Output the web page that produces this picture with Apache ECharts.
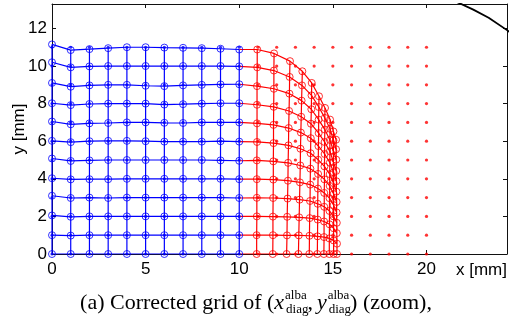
<!DOCTYPE html>
<html>
<head>
<meta charset="utf-8">
<script src="https://cdn.jsdelivr.net/npm/echarts@6/dist/echarts.min.js"></script>
<style>
html,body{margin:0;padding:0;background:#fff;}
#chart{width:516px;height:323px;}
</style>
</head>
<body>
<div id="chart"></div>
<script>
// blue part of the corrected grid: columns x = 0..10, one row per y = 0..11
const blueX = [0, 1, 2, 3, 4, 5, 6, 7, 8, 9, 10];
const blueY = [
  [0, 0, 0, 0, 0, 0, 0, 0, 0, 0, 0],
  [1.0, 0.98, 1.0, 1.0, 1.0, 1.0, 1.0, 1.0, 1.0, 1.0, 1.0],
  [2.05, 1.98, 2.0, 2.0, 2.0, 2.0, 2.0, 2.0, 2.0, 2.0, 2.0],
  [3.1, 2.98, 3.0, 2.98, 3.0, 3.0, 3.0, 3.0, 3.0, 3.0, 2.98],
  [4.03, 3.97, 3.98, 3.98, 4.0, 4.0, 4.0, 4.0, 4.0, 4.0, 3.98],
  [5.08, 4.95, 4.98, 5.0, 5.0, 5.0, 5.0, 5.0, 5.0, 4.98, 4.96],
  [6.02, 5.95, 6.0, 6.02, 6.02, 6.0, 5.98, 5.98, 5.98, 6.0, 5.98],
  [7.05, 6.9, 6.95, 6.97, 7.0, 7.0, 6.98, 6.97, 7.0, 7.0, 7.0],
  [8.02, 7.92, 7.98, 8.0, 8.0, 8.0, 7.95, 7.97, 8.0, 8.02, 8.02],
  [9.1, 8.9, 8.97, 9.0, 9.0, 8.95, 8.93, 8.97, 9.0, 9.02, 9.03],
  [10.2, 9.93, 9.98, 10.0, 10.0, 10.0, 10.0, 10.0, 10.0, 10.0, 9.98],
  [11.15, 10.85, 10.9, 10.95, 11.0, 11.0, 10.98, 10.97, 10.95, 10.92, 10.88]
];

// red part: grid columns 11..20 squeezed towards x = 15, one row per y = 0..11
const redX = [
  [10.93, 11.79, 12.53, 13.16, 13.74, 14.17, 14.52, 14.81, 15.04, 15.22],
  [10.93, 11.80, 12.55, 13.18, 13.75, 14.18, 14.53, 14.81, 15.04, 15.22],
  [10.94, 11.80, 12.56, 13.20, 13.76, 14.19, 14.53, 14.82, 15.04, 15.21],
  [10.94, 11.81, 12.58, 13.22, 13.78, 14.19, 14.54, 14.82, 15.04, 15.21],
  [10.94, 11.82, 12.60, 13.24, 13.79, 14.20, 14.54, 14.82, 15.04, 15.20],
  [10.94, 11.82, 12.61, 13.26, 13.80, 14.21, 14.55, 14.83, 15.04, 15.20],
  [10.95, 11.83, 12.63, 13.27, 13.81, 14.22, 14.55, 14.83, 15.04, 15.19],
  [10.95, 11.83, 12.64, 13.29, 13.82, 14.23, 14.56, 14.84, 15.04, 15.19],
  [10.95, 11.84, 12.66, 13.31, 13.83, 14.24, 14.56, 14.84, 15.03, 15.18],
  [10.95, 11.85, 12.68, 13.33, 13.85, 14.24, 14.57, 14.84, 15.03, 15.18],
  [10.96, 11.85, 12.69, 13.35, 13.86, 14.25, 14.57, 14.85, 15.03, 15.17],
  [10.96, 11.86, 12.71, 13.37, 13.87, 14.26, 14.58, 14.85, 15.03, 15.17]
];
const redY = [
  [0, 0, 0, 0, 0, 0, 0, 0, 0, 0],
  [1.00, 1.00, 0.99, 0.99, 0.97, 0.94, 0.90, 0.83, 0.72, 0.55],
  [2.00, 1.99, 1.98, 1.95, 1.91, 1.83, 1.73, 1.58, 1.37, 1.11],
  [2.99, 2.98, 2.95, 2.89, 2.82, 2.67, 2.51, 2.29, 2.00, 1.66],
  [3.98, 3.96, 3.90, 3.81, 3.69, 3.48, 3.25, 2.97, 2.60, 2.21],
  [4.98, 4.93, 4.85, 4.71, 4.54, 4.26, 3.97, 3.62, 3.19, 2.77],
  [5.96, 5.90, 5.78, 5.60, 5.36, 5.01, 4.66, 4.25, 3.77, 3.32],
  [6.95, 6.87, 6.70, 6.46, 6.16, 5.74, 5.32, 4.86, 4.34, 3.87],
  [7.94, 7.83, 7.61, 7.30, 6.93, 6.43, 5.96, 5.46, 4.90, 4.42],
  [8.93, 8.79, 8.53, 8.16, 7.70, 7.15, 6.62, 6.07, 5.49, 5.02],
  [9.93, 9.76, 9.42, 8.97, 8.44, 7.82, 7.24, 6.66, 6.05, 5.57],
  [10.88, 10.67, 10.26, 9.72, 9.10, 8.39, 7.77, 7.15, 6.52, 6.08]
];

// uncorrected grid positions (dots)
const dotX = [11, 12, 13, 14, 15, 16, 17, 18, 19, 20];
const dotY = [0, 1, 2, 3, 4, 5, 6, 7, 8, 9, 10, 11];

// black boundary in the top right corner
const edgeX = [21.2, 21.7, 22.5, 23.32, 24.3, 24.7];
const edgeY = [13.6, 13.37, 13.0, 12.57, 11.91, 11.62];

const xTicks = [0, 5, 10, 15, 20];
const yTicks = [0, 2, 4, 6, 8, 10, 12];

const BLUE = '#0000ff';
const RED = '#ff0000';
const SANS = '"Liberation Sans", Arial, sans-serif';
const SERIF = '"Liberation Serif", "Times New Roman", serif';
const labelFont = {fontSize: 17, color: '#000', fontFamily: SANS};

const chart = echarts.init(document.getElementById('chart'));

const series = [];
const lineSeries = (data, color) => ({
  type: 'line', data, showSymbol: false, symbol: 'none', silent: true,
  lineStyle: {color, width: 1.2}, z: 2
});

// red grid first, blue on top
redX.forEach((row, v) => {
  series.push(lineSeries([[blueX[10], blueY[v][10]]].concat(row.map((x, j) => [x, redY[v][j]])), RED));
});
dotX.forEach((_, j) => {
  series.push(lineSeries(redX.map((row, v) => [row[j], redY[v][j]]), RED));
});
blueY.forEach(row => {
  series.push(lineSeries(blueX.map((x, i) => [x, row[i]]), BLUE));
});
blueX.forEach((x, i) => {
  series.push(lineSeries(blueY.map(row => [x, row[i]]), BLUE));
});

const redCircles = [];
redX.forEach((row, v) => row.forEach((x, j) => redCircles.push([x, redY[v][j]])));
const blueCircles = [];
blueY.forEach(row => row.forEach((y, i) => blueCircles.push([blueX[i], y])));
const redDots = [];
dotY.forEach(y => dotX.forEach(x => redDots.push([x, y])));
const blueDots = [];
dotY.forEach(y => blueX.forEach(x => blueDots.push([x, y])));

const circle = (data, color, z) => ({
  type: 'scatter', data, symbol: 'circle', symbolSize: 7, silent: true, z,
  itemStyle: {color: 'rgba(0,0,0,0)', borderColor: color, borderWidth: 1}
});
const dots = (data, color, z) => ({
  type: 'scatter', data, symbol: 'circle', symbolSize: 3.2, silent: true, z,
  itemStyle: {color}
});
series.push(dots(redDots, RED, 3));
series.push(circle(redCircles, RED, 3));
series.push(dots(blueDots, BLUE, 4));
series.push(circle(blueCircles, BLUE, 4));

series.push({
  type: 'line', data: edgeX.map((x, i) => [x, edgeY[i]]), showSymbol: false, symbol: 'none',
  silent: true, clip: true, lineStyle: {color: '#000', width: 1.8}, z: 5
});

const tickFmt = list => v => (list.indexOf(v) >= 0 ? String(v) : '');
const axisBase = {
  type: 'value',
  axisLine: {show: true, onZero: false, lineStyle: {color: '#111', width: 1}},
  axisTick: {show: true, inside: true, length: 4, lineStyle: {color: '#111'}},
  splitLine: {show: false}
};

// caption laid out piece by piece (sub/superscripts stacked)
const caption = [
  {t: '(a) Corrected grid of (', f: '22px ' + SERIF},
  {t: 'x', f: 'italic 22px ' + SERIF, gap: 1},
  {sup: 'alba', sub: 'diag', f: '13px ' + SERIF},
  {t: ',', f: '22px ' + SERIF, gap: 4},
  {t: 'y', f: 'italic 22px ' + SERIF, gap: 1},
  {sup: 'alba', sub: 'diag', f: '13px ' + SERIF},
  {t: ') (zoom),', f: '22px ' + SERIF}
];
const ctx = document.createElement('canvas').getContext('2d');
const widthOf = (t, f) => { ctx.font = f; return ctx.measureText(t).width; };
let total = 0;
caption.forEach(p => {
  p.w = p.sup ? Math.max(widthOf(p.sup, p.f), widthOf(p.sub, p.f)) : widthOf(p.t, p.f);
  total += p.w + (p.gap || 0);
});
const capGraphic = [];
let cx = 256 - total / 2;
const midY = 303;
caption.forEach(p => {
  const st = {fill: '#000', font: p.f, verticalAlign: 'middle', textVerticalAlign: 'middle'};
  if (p.sup) {
    capGraphic.push({type: 'text', x: cx, y: midY - 7, style: Object.assign({text: p.sup}, st)});
    capGraphic.push({type: 'text', x: cx + 1, y: midY + 7, style: Object.assign({text: p.sub}, st)});
  } else {
    capGraphic.push({type: 'text', x: cx, y: midY, style: Object.assign({text: p.t}, st)});
  }
  cx += p.w + (p.gap || 0);
});

chart.setOption({
  animation: false,
  backgroundColor: '#fff',
  grid: {left: 52, right: 9, top: 4, bottom: 69},
  xAxis: [
    Object.assign({}, axisBase, {
      position: 'bottom', min: 0, max: 24.3, interval: 5,
      axisLabel: Object.assign({margin: 7, formatter: tickFmt(xTicks)}, labelFont)
    }),
    Object.assign({}, axisBase, {
      position: 'top', min: 0, max: 24.3, interval: 5, axisLabel: {show: false}
    })
  ],
  yAxis: [
    Object.assign({}, axisBase, {
      position: 'left', min: 0, max: 13.3, interval: 2,
      axisLabel: Object.assign({margin: 5, formatter: tickFmt(yTicks)}, labelFont)
    }),
    Object.assign({}, axisBase, {
      position: 'right', min: 0, max: 13.3, interval: 2, axisLabel: {show: false}
    })
  ],
  series,
  graphic: [
    {type: 'text', x: 507, y: 262, style: {text: 'x [mm]', font: '17px ' + SANS, fill: '#000', align: 'right', textAlign: 'right', verticalAlign: 'top', textVerticalAlign: 'top'}},
    {type: 'text', x: 19, y: 129, rotation: Math.PI / 2, style: {text: 'y [mm]', font: '17px ' + SANS, fill: '#000', align: 'center', textAlign: 'center', verticalAlign: 'middle', textVerticalAlign: 'middle'}}
  ].concat(capGraphic)
});
</script>
</body>
</html>
